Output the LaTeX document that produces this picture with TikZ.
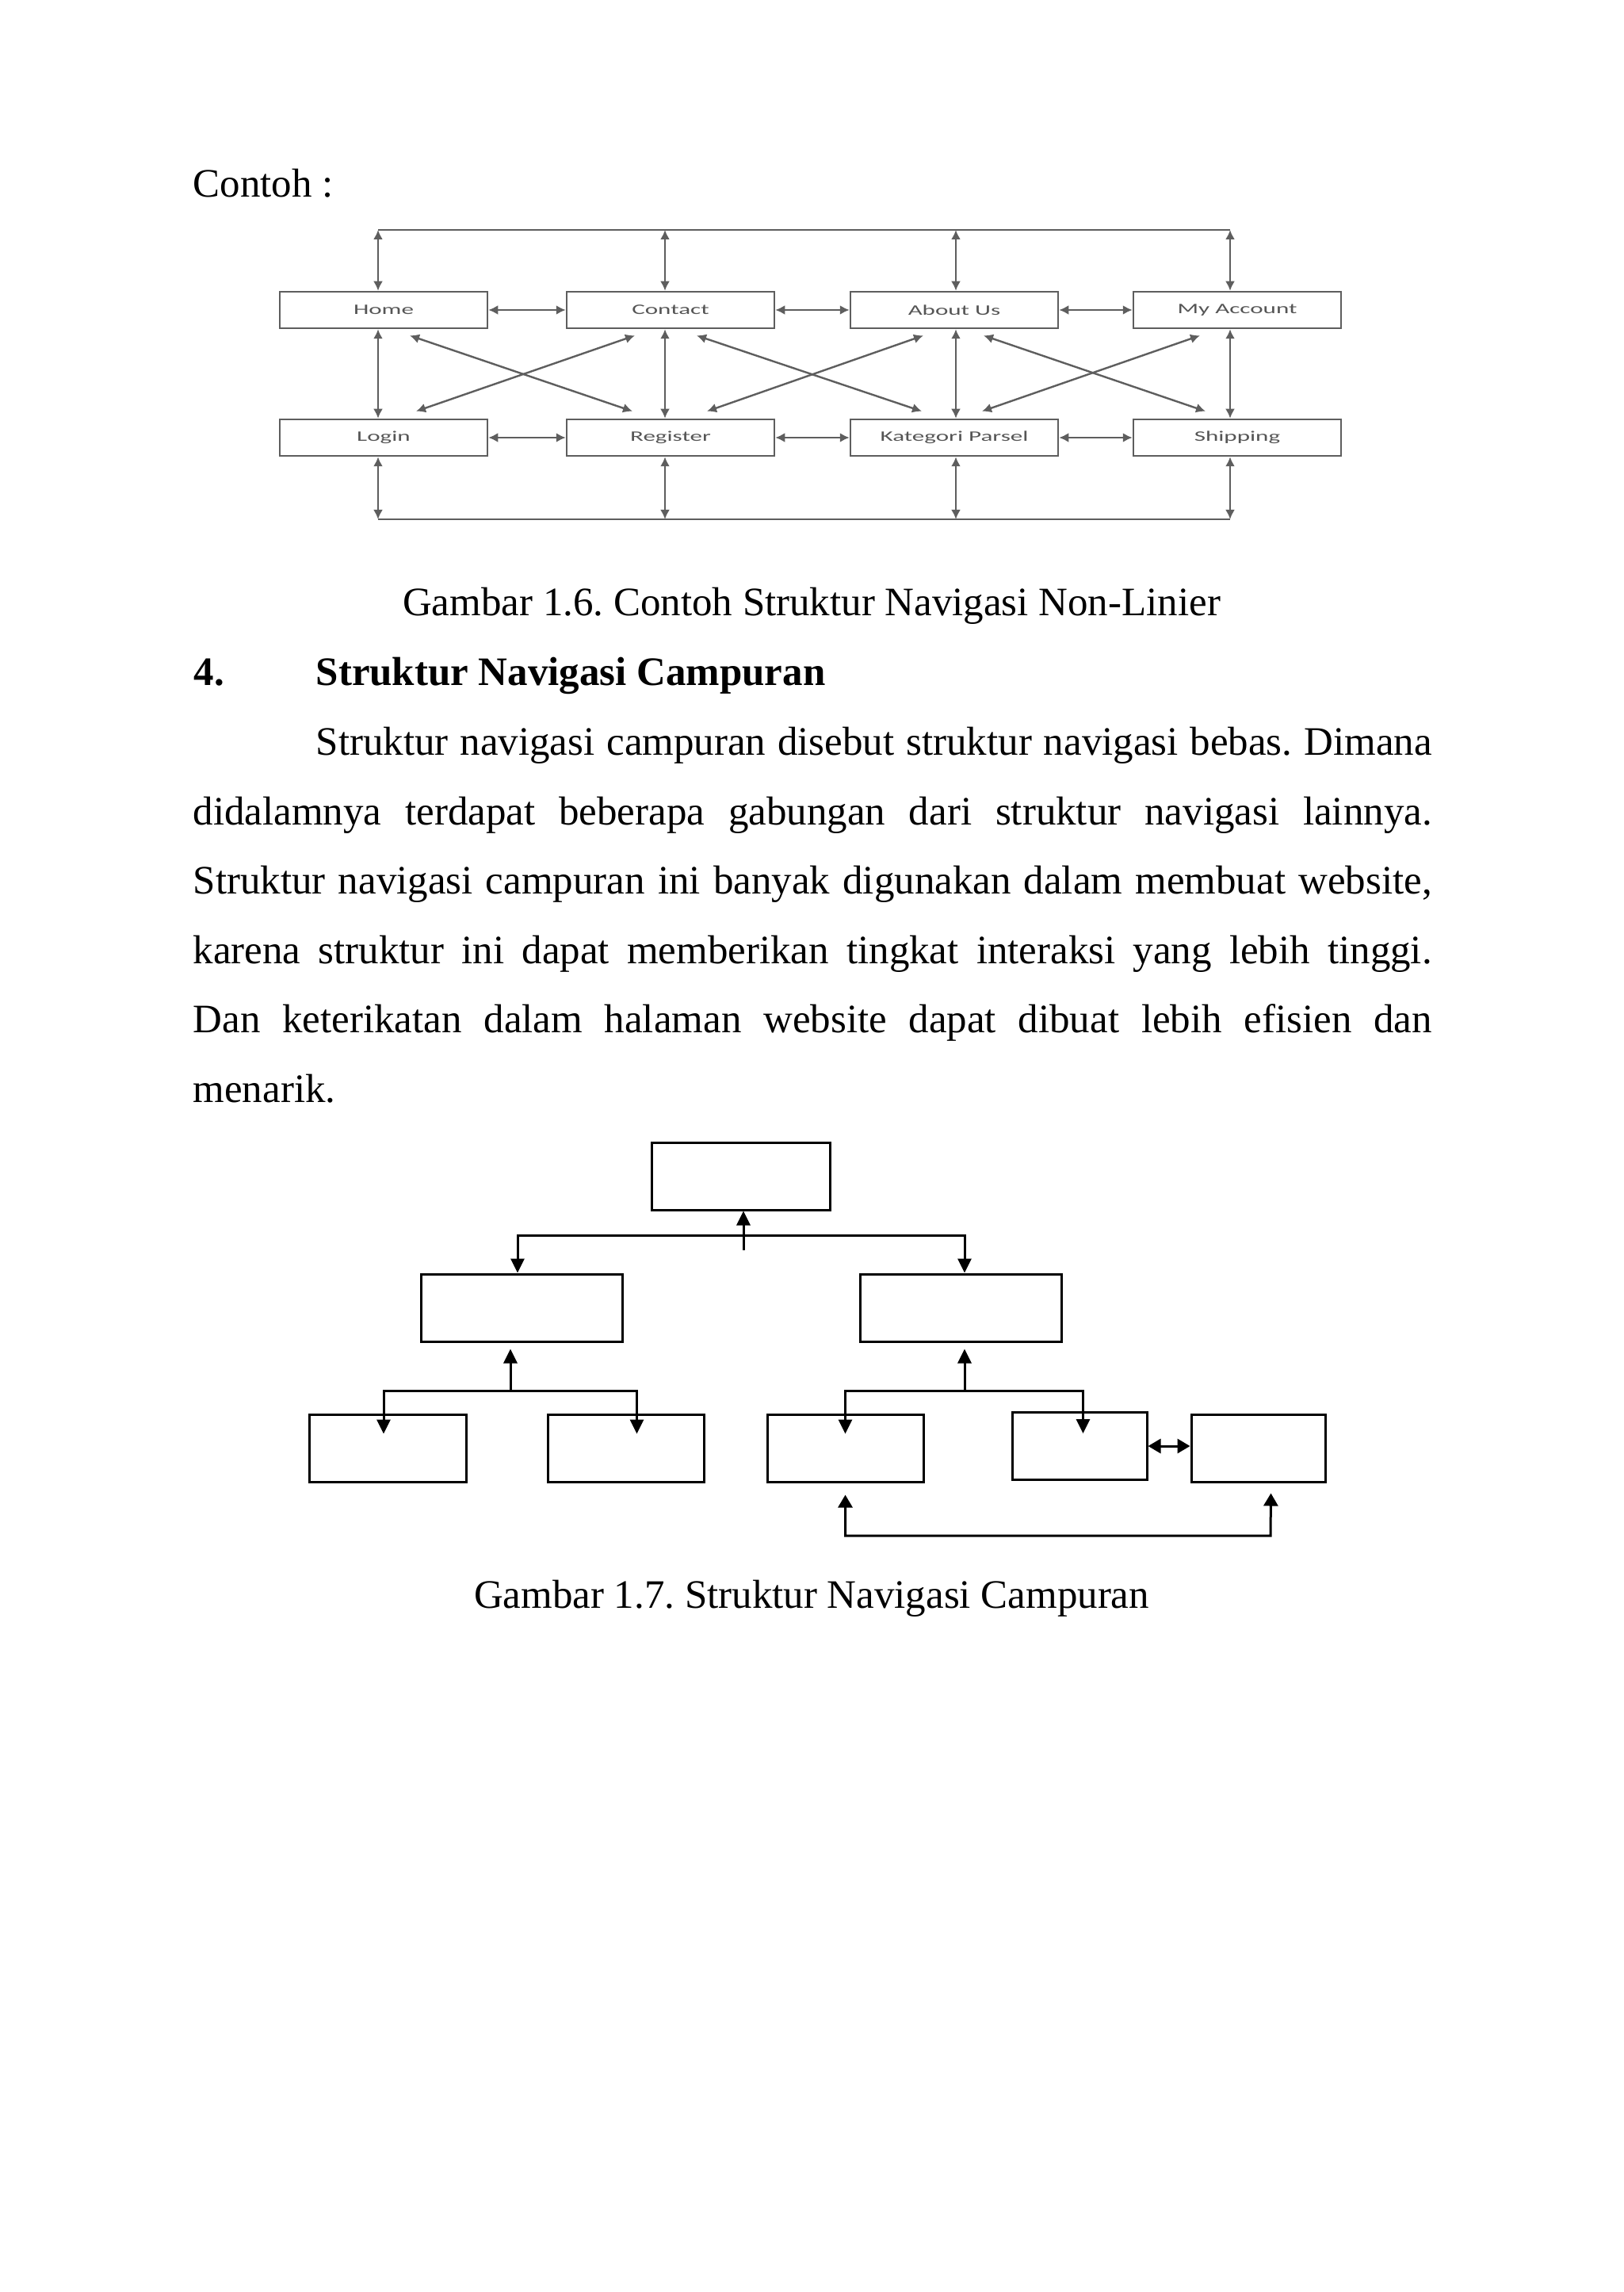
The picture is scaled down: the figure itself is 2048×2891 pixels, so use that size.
\documentclass[tikz,border=0pt]{standalone}
\usepackage{fontspec}
\setmainfont{Liberation Serif}
\newfontfamily\boxfont[FakeStretch=1.7]{Carlito}
\usetikzlibrary{arrows.meta}
\frenchspacing

\definecolor{navgray}{HTML}{5E5E5E}
\definecolor{navtext}{HTML}{555555}

\tikzset{
  teks/.style={inner sep=0pt, font=\fontsize{14.5}{17}\selectfont},
  kotakmenu/.style={draw=navgray, line width=0.25mm, minimum width=26.2mm, minimum height=4.6mm,
    inner sep=0pt, text=navtext, font=\boxfont\fontsize{5.2}{6}\selectfont},
  bus/.style={navgray, line width=0.24mm},
  link/.style={navgray, line width=0.24mm, {Latex[length=1.2mm,width=1.2mm]}-{Latex[length=1.2mm,width=1.2mm]}},
  kotak/.style={draw, line width=0.3mm, minimum height=8.5mm, inner sep=0pt},
  panah/.style={line width=0.3mm, -{Triangle[length=1.8mm,width=1.7mm]}},
  panah2/.style={line width=0.3mm, {Triangle[length=1.6mm,width=1.8mm]}-{Triangle[length=1.6mm,width=1.8mm]}}
}

\begin{document}
\begin{tikzpicture}[x=0.1mm, y=-0.1mm]
  \path[fill=white] (0,0) rectangle (2048,2891);
  \useasboundingbox (0,0) rectangle (2048,2891);

  \node (T1) at (243,249) [teks, anchor=base west] {Contoh :};

  % non-linier
  \node (A) at (484,391) [kotakmenu] {Home};
  \node (B) at (846,391) [kotakmenu] {Contact};
  \node (C) at (1204,391) [kotakmenu] {About Us};
  \node (D) at (1561,391) [kotakmenu] {My Account};
  \node (E) at (484,552) [kotakmenu] {Login};
  \node (F) at (846,552) [kotakmenu] {Register};
  \node (G) at (1204,552) [kotakmenu] {Kategori Parsel};
  \node (H) at (1561,552) [kotakmenu] {Shipping};
  \coordinate (UA) at (477,290);
  \coordinate (UB) at (839,290);
  \coordinate (UC) at (1206,290);
  \coordinate (UD) at (1552,290);
  \coordinate (WA) at (477,655);
  \coordinate (WB) at (839,655);
  \coordinate (WC) at (1206,655);
  \coordinate (WD) at (1552,655);

  \draw[bus] (UA) -- (UD);
  \draw[bus] (WA) -- (WD);
  \draw[link] (UA) -- (UA |- A.north);
  \draw[link] (UB) -- (UB |- B.north);
  \draw[link] (UC) -- (UC |- C.north);
  \draw[link] (UD) -- (UD |- D.north);
  \draw[link] (WA) -- (WA |- E.south);
  \draw[link] (WB) -- (WB |- F.south);
  \draw[link] (WC) -- (WC |- G.south);
  \draw[link] (WD) -- (WD |- H.south);
  \draw[link] (A) -- (B);
  \draw[link] (B) -- (C);
  \draw[link] (C) -- (D);
  \draw[link] (E) -- (F);
  \draw[link] (F) -- (G);
  \draw[link] (G) -- (H);
  \draw[link] (UA |- A.south) -- (UA |- E.north);
  \draw[link] (UB |- B.south) -- (UB |- F.north);
  \draw[link] (UC |- C.south) -- (UC |- G.north);
  \draw[link] (UD |- D.south) -- (UD |- H.north);
  \draw[link] ([shift={(33,8)}]A.south) -- ([shift={(-48,-9)}]F.north);
  \draw[link] ([shift={(-45,8)}]B.south) -- ([shift={(41,-9)}]E.north);
  \draw[link] ([shift={(33,8)}]B.south) -- ([shift={(-41,-9)}]G.north);
  \draw[link] ([shift={(-39,8)}]C.south) -- ([shift={(46,-9)}]F.north);
  \draw[link] ([shift={(37,8)}]C.south) -- ([shift={(-40,-9)}]H.north);
  \draw[link] ([shift={(-47,8)}]D.south) -- ([shift={(35,-9)}]G.north);

  \node (T2) at (1024,777) [teks, anchor=base] {Gambar 1.6. Contoh Struktur Navigasi Non-Linier};
  \node (T3) at (244,865) [teks, anchor=base west] {\bfseries 4.};
  \node (T4) at (398,865) [teks, anchor=base west] {\bfseries Struktur Navigasi Campuran};
  \node (T5) at (398,952.5) [teks, anchor=base west] {\makebox[140.8mm][s]{Struktur navigasi campuran disebut struktur navigasi bebas. Dimana}};
  \node (T6) at (243,1040) [teks, anchor=base west] {\makebox[156.3mm][s]{didalamnya terdapat beberapa gabungan dari struktur navigasi lainnya.}};
  \node (T7) at (243,1127.5) [teks, anchor=base west] {\makebox[156.3mm][s]{Struktur navigasi campuran ini banyak digunakan dalam membuat website,}};
  \node (T8) at (243,1215) [teks, anchor=base west] {\makebox[156.3mm][s]{karena struktur ini dapat memberikan tingkat interaksi yang lebih tinggi.}};
  \node (T9) at (243,1302.5) [teks, anchor=base west] {\makebox[156.3mm][s]{Dan keterikatan dalam halaman website dapat dibuat lebih efisien dan}};
  \node (T10) at (243,1390) [teks, anchor=base west] {menarik.};

  % campuran
  \node (K) at (934.5,1483.5) [kotak, minimum width=22.5mm] {};
  \node (L) at (658,1649.5) [kotak, minimum width=25.4mm] {};
  \node (M) at (1212,1649.5) [kotak, minimum width=25.4mm] {};
  \node (N) at (489,1826.5) [kotak, minimum width=19.8mm] {};
  \node (O) at (789.5,1826.5) [kotak, minimum width=19.7mm] {};
  \node (P) at (1066.5,1826.5) [kotak, minimum width=19.7mm] {};
  \node (Q) at (1362,1824) [kotak, minimum width=17mm] {};
  \node (R) at (1587.5,1826.5) [kotak, minimum width=16.9mm] {};
  \coordinate (J1) at (938,1558);
  \coordinate (J2) at (644,1754);
  \coordinate (J3) at (1217,1754);
  \coordinate (J4) at (1603,1937);

  \draw[panah] ([shift={(0,19)}]J1) -- (J1 |- K.south);
  \draw[panah] (J1) -| ([shift={(-5,0)}]L.north);
  \draw[panah] (J1) -| ([shift={(5,0)}]M.north);
  \draw[panah] (J2) -- ([shift={(-14,8)}]L.south);
  \draw[panah] (J2) -| ([shift={(-5,26)}]N.north);
  \draw[panah] (J2) -| ([shift={(14,26)}]O.north);
  \draw[panah] (J3) -- ([shift={(5,8)}]M.south);
  \draw[panah] (J3) -| ([shift={(0,26)}]P.north);
  \draw[panah] (J3) -| ([shift={(4.5,28)}]Q.north);
  \draw[panah2] (Q.east) -- (Q.east -| R.west);
  \draw[panah2] ([shift={(0,15)}]P.south) |- (J4) -- ([shift={(16,13)}]R.south);

  \node (T11) at (1024,2028) [teks, anchor=base] {Gambar 1.7. Struktur Navigasi Campuran};
\end{tikzpicture}
\end{document}
